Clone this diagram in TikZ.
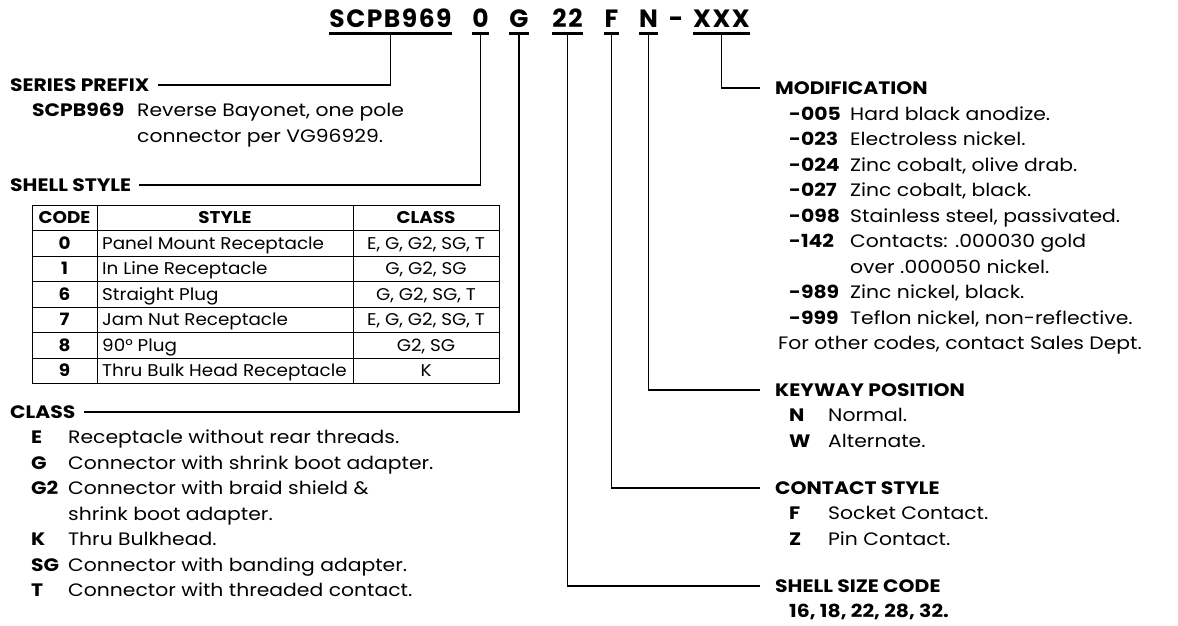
\documentclass[tikz,border=0pt]{standalone}
\usepackage{fontspec}
\setmainfont{Poppins}[FakeStretch=1.13]
\newfontfamily\titlefont{Poppins}[LetterSpace=6]
\newfontfamily\tablefont{Poppins}[FakeStretch=1.08]
\begin{document}
\begin{tikzpicture}[x=1pt,y=-1pt,
  ttl/.style={anchor=base, inner sep=0pt, text depth=0pt,
    font=\fontsize{25}{25}\titlefont\bfseries},
  ul/.style={line width=3.5pt},
  conn/.style={line width=1.8pt},
  body/.style={anchor=base west, inner sep=0pt, font=\fontsize{18}{20}\selectfont},
  key/.style={body, font=\fontsize{18}{20}\selectfont\bfseries},
  hdrL/.style={key, inner xsep=8pt, inner ysep=0pt, text height=12.6pt, text depth=0pt},
  hdrR/.style={key, inner xsep=15pt, inner ysep=0pt, text height=12.6pt, text depth=0pt},
  tbl/.style={line width=1pt},
  tb/.style={anchor=base, inner sep=0pt, font=\fontsize{17}{19}\tablefont},
  tbk/.style={tb, font=\fontsize{17}{19}\tablefont\bfseries},
  tbl-left/.style={tb, anchor=base west}
]
\fill[white] (0,0) rectangle (1178,625);
\useasboundingbox (0,0) rectangle (1178,625);

% ---------- title ----------
\node[ttl, minimum width=119pt] (t1) at (390.5,27.5) {SCPB969};
\node[ttl, minimum width=17pt] (t2) at (480.5,27.5) {0};
\node[ttl, minimum width=20pt] (t3) at (519,27.5) {G};
\node[ttl, minimum width=31pt] (t4) at (567.5,27.5) {22};
\node[ttl, minimum width=10pt] (t5) at (611.5,27.5) {F};
\node[ttl, minimum width=15pt] (t6) at (648.5,27.5) {N};
\node[ttl] (t7) at (676,27.5) {-};
\node[ttl, minimum width=57pt] (t8) at (721.5,27.5) {XXX};
\foreach \n in {t1,t2,t3,t4,t5,t6,t8}
  \draw[ul] ([yshift=-6pt]\n.south west) -- ([yshift=-6pt]\n.south east);

% ---------- headers ----------
\node[hdrL] (hSP) at (2,91.3) {SERIES PREFIX};
\node[hdrL] (hSS) at (2,191.3) {SHELL STYLE};
\node[hdrL] (hCL) at (2,418.3) {CLASS};
\node[hdrR] (hMD) at (760,94.3) {MODIFICATION};
\node[hdrR] (hKP) at (760,396.3) {KEYWAY POSITION};
\node[hdrR] (hCS) at (760,494.3) {CONTACT STYLE};
\node[hdrR] (hSZ) at (760,592.3) {SHELL SIZE CODE};

% ---------- connectors ----------
\draw[conn] ([yshift=-6pt]t1.south) |- (hSP.east);
\draw[conn] ([yshift=-6pt]t2.south) |- (hSS.east);
\draw[conn] ([yshift=-6pt]t3.south) |- (hCL.east);
\draw[conn] ([yshift=-6pt]t4.south) |- (hSZ.west);
\draw[conn] ([yshift=-6pt]t5.south) |- (hCS.west);
\draw[conn] ([yshift=-6pt]t6.south) |- (hKP.west);
\draw[conn] ([yshift=-6pt]t8.south) |- (hMD.west);

% ---------- series prefix ----------
\node[key] (spk) at (32,116.8) {SCPB969};
\node[body] (spd1) at (137,116.8) {Reverse Bayonet, one pole};
\node[body] (spd2) at (137,142.3) {connector per VG96929.};

% ---------- shell style table ----------
\draw[tbl] (32,205) rectangle (499,383.5);
\draw[tbl] (97,205) -- (97,383.5);
\draw[tbl] (353,205) -- (353,383.5);
\foreach \yy in {230.5,256,281.5,307,332.5,358}
  \draw[tbl] (32,\yy) -- (499,\yy);
\node[tbk] (thc) at (64.5,223.7) {CODE};
\node[tbk] (ths) at (225,223.7) {STYLE};
\node[tbk] (thk) at (426,223.7) {CLASS};
\foreach \c/\s/\k [count=\i from 0] in
  {0/Panel Mount Receptacle/{E, G, G2, SG, T},
   1/In Line Receptacle/{G, G2, SG},
   6/Straight Plug/{G, G2, SG, T},
   7/Jam Nut Receptacle/{E, G, G2, SG, T},
   8/90° Plug/{G2, SG},
   9/Thru Bulk Head Receptacle/K}
{
  \pgfmathsetmacro{\yb}{249.2+25.5*\i}
  \node[tbk] (tc\i) at (64.5,\yb) {\c};
  \node[tbl-left] (ts\i) at (102,\yb) {\s};
  \node[tb] (tk\i) at (426,\yb) {\k};
}

% ---------- class ----------
\node[key] (ck1) at (31,443.8) {E};
\node[body] (cd1) at (68,443.8) {Receptacle without rear threads.};
\node[key] (ck2) at (31,469.3) {G};
\node[body] (cd2) at (68,469.3) {Connector with shrink boot adapter.};
\node[key] (ck3) at (31,494.8) {G2};
\node[body] (cd3) at (68,494.8) {Connector with braid shield \&};
\node[body] (cd3b) at (68,520.3) {shrink boot adapter.};
\node[key] (ck4) at (31,545.8) {K};
\node[body] (cd4) at (68,545.8) {Thru Bulkhead.};
\node[key] (ck5) at (31,571.3) {SG};
\node[body] (cd5) at (68,571.3) {Connector with banding adapter.};
\node[key] (ck6) at (31,596.8) {T};
\node[body] (cd6) at (68,596.8) {Connector with threaded contact.};

% ---------- modification ----------
\node[key] (mk1) at (789,120.3) {-005};
\node[body] (md1) at (850,120.3) {Hard black anodize.};
\node[key] (mk2) at (789,145.8) {-023};
\node[body] (md2) at (850,145.8) {Electroless nickel.};
\node[key] (mk3) at (789,171.3) {-024};
\node[body] (md3) at (850,171.3) {Zinc cobalt, olive drab.};
\node[key] (mk4) at (789,196.8) {-027};
\node[body] (md4) at (850,196.8) {Zinc cobalt, black.};
\node[key] (mk5) at (789,222.3) {-098};
\node[body] (md5) at (850,222.3) {Stainless steel, passivated.};
\node[key] (mk6) at (789,247.8) {-142};
\node[body] (md6) at (850,247.8) {Contacts: .000030 gold};
\node[body] (md6b) at (850,273.3) {over .000050 nickel.};
\node[key] (mk7) at (789,298.8) {-989};
\node[body] (md7) at (850,298.8) {Zinc nickel, black.};
\node[key] (mk8) at (789,324.3) {-999};
\node[body] (md8) at (850,324.3) {Teflon nickel, non-reflective.};
\node[body] (mo) at (778,349.8) {For other codes, contact Sales Dept.};

% ---------- keyway ----------
\node[key] (kk1) at (789,421.8) {N};
\node[body] (kd1) at (828,421.8) {Normal.};
\node[key] (kk2) at (789,447.3) {W};
\node[body] (kd2) at (828,447.3) {Alternate.};

% ---------- contact style ----------
\node[key] (ck7) at (789,519.8) {F};
\node[body] (cd7) at (828,519.8) {Socket Contact.};
\node[key] (ck8) at (789,545.3) {Z};
\node[body] (cd8) at (828,545.3) {Pin Contact.};

% ---------- shell size ----------
\node[key] (szv) at (789,617.8) {16, 18, 22, 28, 32.};
\end{tikzpicture}
\end{document}
